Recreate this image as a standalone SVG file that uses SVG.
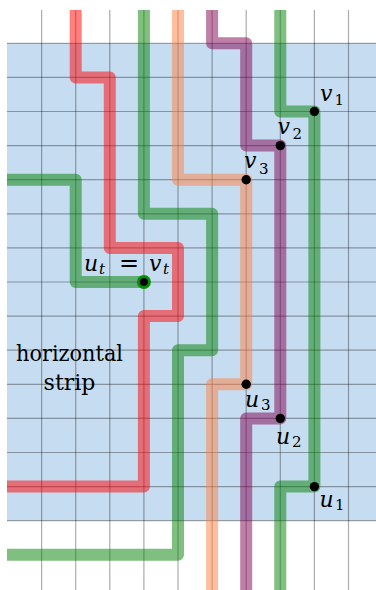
<svg xmlns="http://www.w3.org/2000/svg" width="376" height="590" viewBox="0 0 376 590">
<style>
.grid line{stroke:#000;stroke-opacity:0.33;stroke-width:1.2}
.p{fill:none;stroke-width:12;stroke-opacity:0.5;stroke-linejoin:round;stroke-linecap:butt}
.red{stroke:#ff0000}
.grn{stroke:#008000}
.org{stroke:#ff8040}
.pur{stroke:#800050}
.dot{fill:#000}
text{font-family:'DejaVu Serif','Liberation Serif',serif}
</style>
<rect x="7" y="43.3" width="369" height="477.4" fill="#c6dcf0"/>
<g class="grid">
<line x1="41.6" y1="10" x2="41.6" y2="590"/>
<line x1="75.7" y1="10" x2="75.7" y2="590"/>
<line x1="109.8" y1="10" x2="109.8" y2="590"/>
<line x1="143.9" y1="10" x2="143.9" y2="590"/>
<line x1="178" y1="10" x2="178" y2="590"/>
<line x1="212.1" y1="10" x2="212.1" y2="590"/>
<line x1="246.2" y1="10" x2="246.2" y2="590"/>
<line x1="280.3" y1="10" x2="280.3" y2="590"/>
<line x1="314.4" y1="10" x2="314.4" y2="590"/>
<line x1="348.5" y1="10" x2="348.5" y2="590"/>
<line x1="7" y1="43.3" x2="376" y2="43.3"/>
<line x1="7" y1="77.4" x2="376" y2="77.4"/>
<line x1="7" y1="111.5" x2="376" y2="111.5"/>
<line x1="7" y1="145.6" x2="376" y2="145.6"/>
<line x1="7" y1="179.7" x2="376" y2="179.7"/>
<line x1="7" y1="213.8" x2="376" y2="213.8"/>
<line x1="7" y1="247.9" x2="376" y2="247.9"/>
<line x1="7" y1="282" x2="376" y2="282"/>
<line x1="7" y1="316.1" x2="376" y2="316.1"/>
<line x1="7" y1="350.2" x2="376" y2="350.2"/>
<line x1="7" y1="384.3" x2="376" y2="384.3"/>
<line x1="7" y1="418.4" x2="376" y2="418.4"/>
<line x1="7" y1="452.5" x2="376" y2="452.5"/>
<line x1="7" y1="486.6" x2="376" y2="486.6"/>
<line x1="7" y1="520.7" x2="376" y2="520.7"/>
</g>
<g id="connectors">
<path class="p red" d="M75.7 10V77.4H109.8V247.9H178V316.1H143.9V486.6H7"/>
<path class="p grn" d="M7 179.7H75.7V282H143.9"/>
<path class="p grn" d="M143.9 10V213.8H212.1V350.2H178V554.8H7"/>
<path class="p org" d="M178 10V179.7H246.2V384.3H212.1V590"/>
<path class="p pur" d="M212.1 10V43.3H246.2V145.6H280.3V418.4H246.2V590"/>
<path class="p grn" d="M280.3 10V111.5H314.4V486.6H280.3V590"/>
</g>
<g id="v1"><circle class="dot" cx="314.4" cy="111.5" r="4.7"/><text style="font-style:italic;font-size:22px" x="320" y="100.5">v</text><text style="font-size:15px" x="334.5" y="105">1</text></g>
<g id="v2"><circle class="dot" cx="280.3" cy="145.6" r="4.7"/><text style="font-style:italic;font-size:22px" x="277.5" y="133.5">v</text><text style="font-size:15px" x="292.5" y="139">2</text></g>
<g id="v3"><circle class="dot" cx="246.2" cy="179.7" r="4.7"/><text style="font-style:italic;font-size:22px" x="244" y="168">v</text><text style="font-size:15px" x="259" y="174">3</text></g>
<g id="u3"><circle class="dot" cx="246.2" cy="384.3" r="4.7"/><text style="font-style:italic;font-size:22px" x="245" y="407">u</text><text style="font-size:15px" x="261" y="410">3</text></g>
<g id="u2"><circle class="dot" cx="280.3" cy="418.4" r="4.7"/><text style="font-style:italic;font-size:22px" x="276" y="444">u</text><text style="font-size:15px" x="292" y="446.5">2</text></g>
<g id="u1"><circle class="dot" cx="314.4" cy="486.6" r="4.7"/><text style="font-style:italic;font-size:22px" x="319.5" y="506.5">u</text><text style="font-size:15px" x="335" y="509.5">1</text></g>
<g id="ut"><circle cx="143.9" cy="282" r="5.5" fill="#000" stroke="#009000" stroke-width="3"/><text style="font-style:italic;font-size:22px" x="84" y="271">u</text><text style="font-style:italic;font-size:15px" x="99" y="274">t</text><text style="font-size:24px" x="129" y="271" text-anchor="middle">=</text><text style="font-style:italic;font-size:22px" x="149" y="271">v</text><text style="font-style:italic;font-size:15px" x="163" y="274">t</text></g>
<g id="strip"><text style="font-size:22px" x="69.5" y="360.5" text-anchor="middle" textLength="107" lengthAdjust="spacingAndGlyphs">horizontal</text><text style="font-size:22px" x="69.5" y="390" text-anchor="middle">strip</text></g>
</svg>
